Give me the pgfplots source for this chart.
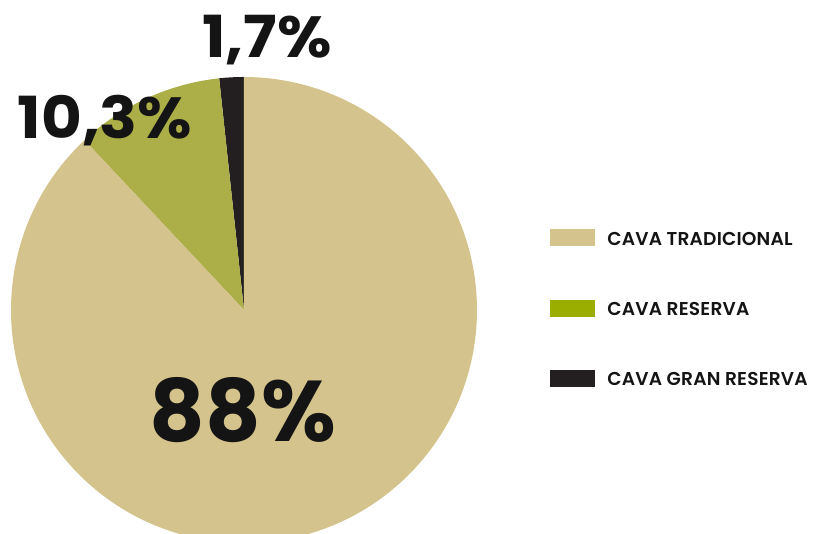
\documentclass[border=0pt]{standalone}
\usepackage{pgfplots}
\pgfplotsset{compat=1.18}
\usepackage{pgfplotstable}
\usepackage{fontspec}
\setmainfont{Poppins}
\newfontfamily\legfont{Poppins}[UprightFont=* SemiBold, LetterSpace=1]
\definecolor{tan}{HTML}{D4C38C}
\definecolor{olive}{HTML}{ACAF47}
\definecolor{legolive}{HTML}{9AAE00}
\definecolor{darkc}{HTML}{231F20}
\definecolor{txt}{HTML}{141414}
\pgfplotstableread{
label value
tradicional 88
reserva 10.3
granreserva 1.7
}\piedata
\begin{document}
\begin{tikzpicture}
\pgfplotstablegetelem{0}{value}\of\piedata \let\vA\pgfplotsretval
\pgfplotstablegetelem{1}{value}\of\piedata \let\vB\pgfplotsretval
\pgfplotstablegetelem{2}{value}\of\piedata \let\vC\pgfplotsretval
\pgfmathsetmacro{\aC}{90+3.6*\vC}
\pgfmathsetmacro{\aB}{\aC+3.6*\vB}
\pgfmathsetmacro{\aA}{\aB+3.6*\vA}
\clip (0,0) rectangle (407.5pt,267pt);
\begin{axis}[
  at={(0,0)}, anchor=south west,
  width=407.5pt, height=267pt, scale only axis,
  xmin=0, xmax=815, ymin=0, ymax=534,
  hide axis, clip=false,
]
\def\R{116.5pt}
% pie
\fill[darkc] (axis cs:244,224) -- ++(90:\R) arc[start angle=90, end angle=\aC, radius=\R] -- cycle;
\fill[olive] (axis cs:244,224) -- ++(\aC:\R) arc[start angle=\aC, end angle=\aB, radius=\R] -- cycle;
\fill[tan] (axis cs:244,224) -- ++(\aB:\R) arc[start angle=\aB, end angle=\aA, radius=\R] -- cycle;
% labels
\node[txt, font=\fontsize{43}{43}\selectfont\bfseries] at (axis cs:243,124) {88\%};
\node[txt, xscale=1.08, font=\fontsize{29}{29}\selectfont\bfseries] at (axis cs:105,413) {10,3\%};
\node[txt, xscale=1.08, font=\fontsize{29}{29}\selectfont\bfseries] at (axis cs:267,494) {1,7\%};
% legend
\fill[tan] (axis cs:550,305) rectangle (axis cs:595,288);
\fill[legolive] (axis cs:550,234) rectangle (axis cs:595,217);
\fill[darkc] (axis cs:550,164) rectangle (axis cs:595,147);
\node[txt, anchor=west, inner sep=0pt, font=\legfont\fontsize{9.3}{9.3}\selectfont] at (axis cs:607,295) {CAVA TRADICIONAL};
\node[txt, anchor=west, inner sep=0pt, font=\legfont\fontsize{9.3}{9.3}\selectfont] at (axis cs:607,225) {CAVA RESERVA};
\node[txt, anchor=west, inner sep=0pt, font=\legfont\fontsize{9.3}{9.3}\selectfont] at (axis cs:607,155) {CAVA GRAN RESERVA};
\end{axis}
\end{tikzpicture}
\end{document}
